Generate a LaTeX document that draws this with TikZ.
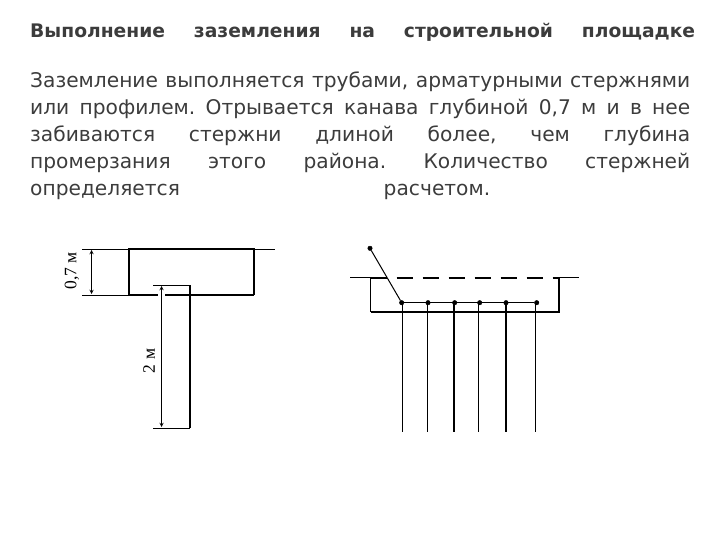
\documentclass[tikz,border=0pt]{standalone}
\usepackage{fontspec}
\setmainfont{DejaVu Sans}
\newfontfamily\serifdim{Liberation Serif}
\usetikzlibrary{arrows, positioning}
\definecolor{textGray}{HTML}{3C3C3C}
\tikzset{
    titleLine/.style={anchor=base west, inner sep=0pt, text=textGray, font=\fontsize{18.7}{18.7}\selectfont\bfseries},
    bodyLine/.style={anchor=base west, inner sep=0pt, text=textGray, font=\fontsize{20.2}{20.2}\selectfont},
    thinLine/.style={line width=1pt},
    thickLine/.style={line width=2.3pt},
    dimEdge/.style={<->, >=stealth, line width=0.9pt},
    dimLabel/.style={rotate=90, inner sep=0pt, font=\serifdim\fontsize{17.5}{17.5}\selectfont},
    dot/.style={circle, draw, fill=black, inner sep=0pt, minimum size=4.5pt},
}
\newcommand{\justLine}[2]{\makebox[#1][s]{#2}}
\begin{document}
\begin{tikzpicture}[x=1pt, y=-1pt]
    \useasboundingbox (0,0) rectangle (720,540);
    % text
    \node[titleLine] (title) at (30,37.5) {\justLine{665pt}{Выполнение\hfill заземления\hfill на\hfill строительной\hfill площадке}};
    \node[bodyLine] (line1) at (30,88) {\justLine{660pt}{Заземление выполняется трубами, арматурными стержнями}};
    \node[bodyLine] (line2) at (30,115) {\justLine{660pt}{или\hfill профилем.\hfill Отрывается\hfill канава\hfill глубиной\hfill 0,7\hfill м\hfill и\hfill в\hfill нее}};
    \node[bodyLine] (line3) at (30,142) {\justLine{660pt}{забиваются\hfill стержни\hfill длиной\hfill более,\hfill чем\hfill глубина}};
    \node[bodyLine] (line4) at (30,169) {\justLine{660pt}{промерзания\hfill этого\hfill района.\hfill Количество\hfill стержней}};
    \node[bodyLine] (line5) at (30,196) {\justLine{460pt}{определяется\hfill расчетом.}};

    % left sketch
    \coordinate (gndL) at (82,249);
    \coordinate (gndR) at (275,249);
    \coordinate (pitTL) at (129,249);
    \coordinate (pitTR) at (254,249);
    \coordinate (pitBL) at (129,295);
    \coordinate (pitBR) at (254,295);
    \coordinate (baseL) at (82,295);
    \coordinate (rodTL) at (153,285);
    \coordinate (rodTR) at (190,285);
    \coordinate (rodBL) at (153,428);
    \coordinate (rodBR) at (190,428);
    \coordinate (dimA) at (91.5,250);
    \coordinate (dimB) at (91.5,294);
    \coordinate (dimC) at (161.5,286);
    \coordinate (dimD) at (161.5,427);

    \draw[thinLine] (gndL) -- (pitTL);
    \draw[thinLine] (pitTR) -- (gndR);
    \draw[thinLine] (baseL) -- (pitBL);
    \draw[thickLine] (pitBR) -- (pitTR) -- (pitTL) -- (pitBL) -- (pitBR);
    \draw[white, line width=3pt] (dimC |- pitBL) ++(-3.5,0) -- ++(7,0);
    \draw[thinLine] (rodTL) -- (rodTR);
    \draw[thinLine] (rodBL) -- (rodBR);
    \draw[thickLine] (rodTR) -- (rodBR);
    \draw[dimEdge] (dimA) -- (dimB);
    \draw[dimEdge] (dimC) -- (dimD);
    \node[dimLabel] (depthLabel) at (72,271) {0,7 м};
    \node[dimLabel] (rodLabel) at (149,361) {2 м};

    % right sketch
    \coordinate (edgeL) at (350,277.7);
    \coordinate (edgeR) at (579,277.7);
    \coordinate (trenchTL) at (370.5,277.7);
    \coordinate (trenchTR) at (559,277.7);
    \coordinate (trenchBL) at (370.5,312);
    \coordinate (trenchBR) at (559,312);

    \draw[thinLine] (edgeL) -- (trenchTL);
    \draw[thinLine] (trenchTR) -- (edgeR);
    \draw[thickLine, dash pattern=on 16pt off 10pt] (trenchTL) -- (trenchTR);
    \draw[thinLine] (trenchTL) -- (trenchBL);
    \draw[thickLine] (trenchTR) -- (trenchBR) -- (trenchBL);

    \node[dot] (lead) at (370,248.3) {};
    \node[dot] (bus1) at (401.7,302.7) {};
    \node[dot] (bus2) at (428,302.7) {};
    \node[dot] (bus3) at (454.7,302.7) {};
    \node[dot] (bus4) at (479.7,302.7) {};
    \node[dot] (bus5) at (506,302.7) {};
    \node[dot] (bus6) at (536.7,302.7) {};
    \draw[thinLine] (lead) -- (bus1);
    \draw[thinLine] (bus1) -- (bus6);

    \coordinate (end1) at (402.3,431.7);
    \coordinate (end2) at (427.3,431.7);
    \coordinate (end3) at (454,431.7);
    \coordinate (end4) at (478.3,431.7);
    \coordinate (end5) at (506,431.7);
    \coordinate (end6) at (535.3,431.7);
    \draw[thinLine] (end1 |- bus1) -- (end1);
    \draw[thinLine] (end2 |- bus2) -- (end2);
    \draw[thickLine] (end3 |- bus3) -- (end3);
    \draw[thinLine] (end4 |- bus4) -- (end4);
    \draw[thickLine] (end5 |- bus5) -- (end5);
    \draw[thinLine] (end6 |- bus6) -- (end6);
\end{tikzpicture}
\end{document}
